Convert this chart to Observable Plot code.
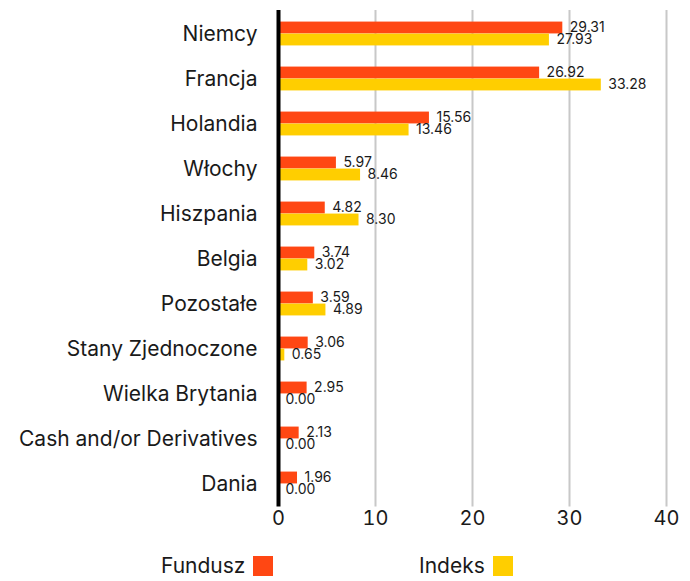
<!DOCTYPE html>
<html>
<head>
<meta charset="utf-8">
<script src="https://cdn.jsdelivr.net/npm/d3@7"></script>
<script src="https://cdn.jsdelivr.net/npm/@observablehq/plot@0.6"></script>
<style>
  html, body { margin: 0; padding: 0; background: #fff; }
  body { width: 690px; height: 581px; overflow: hidden; font-family: Inter, "Noto Sans", sans-serif; color: #1a1a1a; }
  #legend { position: relative; height: 41px; }
  .item { position: absolute; top: 16px; display: flex; align-items: center; font-size: 21px; line-height: 20px; }
  .sw { width: 20px; height: 20px; margin-left: 8px; display: inline-block; }
</style>
</head>
<body>
<div id="chart"></div>
<div id="legend"></div>
<script>
const countries = ["Niemcy","Francja","Holandia","Włochy","Hiszpania","Belgia","Pozostałe","Stany Zjednoczone","Wielka Brytania","Cash and/or Derivatives","Dania"];
const fundusz = [29.31,26.92,15.56,5.97,4.82,3.74,3.59,3.06,2.95,2.13,1.96];
const indeks = [27.93,33.28,13.46,8.46,8.30,3.02,4.89,0.65,0.00,0.00,0.00];
const seriesNames = ["Fundusz","Indeks"];
const seriesColors = ["#FF4713","#FFCE00"];
const xTicks = [0,10,20,30,40];
const gridTicks = [10,20,30,40];

const W = 690, H = 540, MT = 10, MB = 33.4, ML = 278, MR = 24;
const step = (H - MT - MB) / countries.length;
const barH = 12;

const dataF = countries.map((c, i) => ({country: c, value: fundusz[i]}));
const dataI = countries.map((c, i) => ({country: c, value: indeks[i]}));
const fmt = d3.format(".2f");

const chart = Plot.plot({
  width: W, height: H,
  marginTop: MT, marginBottom: MB, marginLeft: ML, marginRight: MR,
  style: {fontFamily: "Inter, 'Noto Sans', sans-serif", color: "#1a1a1a", background: "#fff"},
  x: {domain: [0, 40], ticks: xTicks},
  y: {domain: countries, padding: 0, label: null},
  marks: [
    Plot.ruleX(gridTicks, {stroke: "#c8c8c8", strokeWidth: 2}),
    Plot.barX(dataF, {x: "value", y: "country", fill: seriesColors[0], insetTop: step/2 - barH, insetBottom: step/2}),
    Plot.barX(dataI, {x: "value", y: "country", fill: seriesColors[1], insetTop: step/2, insetBottom: step/2 - barH}),
    Plot.text(dataF, {x: "value", y: "country", text: d => fmt(d.value), dx: 7, dy: -6, textAnchor: "start", fontSize: 14, fill: "#1a1a1a"}),
    Plot.text(dataI, {x: "value", y: "country", text: d => fmt(d.value), dx: 7, dy: 6, textAnchor: "start", fontSize: 14, fill: "#1a1a1a"}),
    Plot.ruleX([0], {stroke: "#000", strokeWidth: 4}),
    Plot.axisY({tickSize: 0, tickPadding: 21, fontSize: 21, label: null}),
    Plot.axisX({ticks: xTicks, tickSize: 0, tickPadding: 4, fontSize: 20, label: null})
  ]
});
document.getElementById("chart").appendChild(chart);

const legend = document.getElementById("legend");
const lefts = [161, 419];
seriesNames.forEach((name, i) => {
  const it = document.createElement("div");
  it.className = "item";
  it.style.left = lefts[i] + "px";
  it.innerHTML = `<span>${name}</span><span class="sw" style="background:${seriesColors[i]}"></span>`;
  legend.appendChild(it);
});
</script>
</body>
</html>
